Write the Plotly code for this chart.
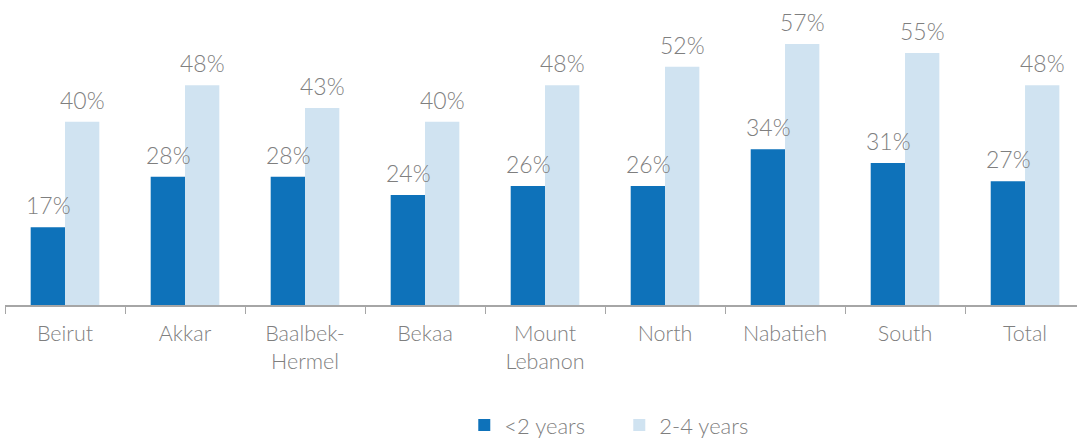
import plotly.graph_objects as go

categories = ["Beirut", "Akkar", "Baalbek-<br>Hermel", "Bekaa", "Mount<br>Lebanon",
              "North", "Nabatieh", "South", "Total"]
under_2 = [17, 28, 28, 24, 26, 26, 34, 31, 27]
two_to_four = [40, 48, 43, 40, 48, 52, 57, 55, 48]
series_names = ["<2 years", "2-4 years"]

DARK = "#0E72BA"
LIGHT = "#D0E3F1"
TXT = "#7F7F7F"
FONT = "Lato"

fig = go.Figure()
fig.add_trace(go.Bar(x=categories, y=under_2, name=series_names[0], marker_color=DARK,
                     marker_line_width=0))
fig.add_trace(go.Bar(x=categories, y=two_to_four, name=series_names[1], marker_color=LIGHT,
                     marker_line_width=0))

annotations = []
for vals, shift in ((under_2, -17), (two_to_four, 17)):
    for c, v in zip(categories, vals):
        annotations.append(dict(x=c, y=v, text=f"{v}%", showarrow=False, xref="x", yref="y",
                                xanchor="center", yanchor="bottom", xshift=shift, yshift=6,
                                font=dict(family=FONT, size=23, color=TXT, weight=300)))

fig.update_layout(
    width=1077, height=441,
    margin=dict(l=5, r=0, t=0, b=136, autoexpand=False),
    plot_bgcolor="white", paper_bgcolor="white",
    barmode="group", bargap=0.428, bargroupgap=0,
    font=dict(family=FONT, size=21, color=TXT, weight=300),
    annotations=annotations,
    legend=dict(orientation="h", xref="container", yref="container",
                x=0.575, y=0.036, xanchor="center", yanchor="middle",
                font=dict(family=FONT, size=22, color=TXT, weight=300),
                itemwidth=30, entrywidth=110, traceorder="normal"),
    xaxis=dict(range=[-0.5, 8.433], showline=True, linecolor="#A6A6A6", linewidth=1.5,
               ticks="outside", tickson="boundaries", ticklen=7, tickcolor="#A6A6A6",
               ticklabelstandoff=8,
               tickfont=dict(family=FONT, size=21.5, color=TXT, weight=300),
               showgrid=False, fixedrange=True),
    yaxis=dict(range=[0, 66.6], visible=False, showgrid=False, fixedrange=True),
)

fig.write_html("out.html", config={"displayModeBar": False},
               post_script="document.body.style.margin='0';document.body.style.padding='0';")
